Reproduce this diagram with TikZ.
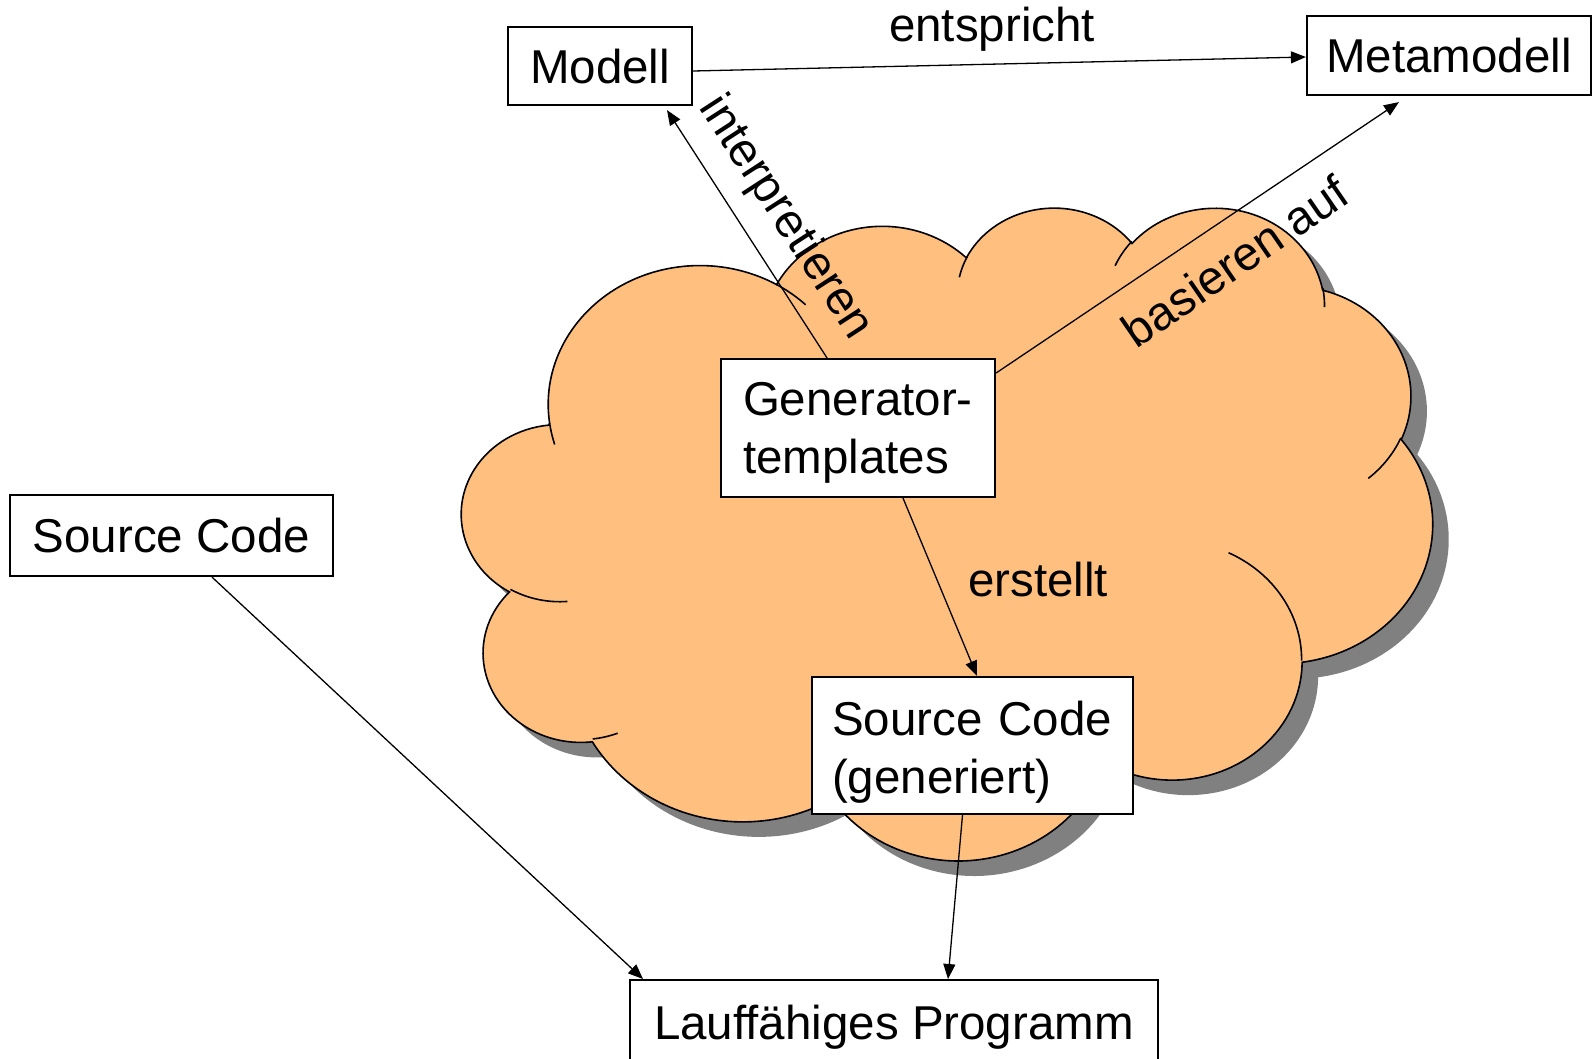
\documentclass[tikz,border=0pt]{standalone}
\usepackage{fontspec}
\setmainfont{Liberation Sans}
\usetikzlibrary{arrows.meta}
\definecolor{cloudc}{RGB}{255,191,127}
\definecolor{shadowc}{RGB}{128,128,128}
% DrawingML-style arc: name, wR, hR, start angle (visual, deg), sweep (deg)
\newcommand\defarc[5]{%
  \pgfmathsetmacro\tmpS{atan2((#2)*sin(#4),(#3)*cos(#4))}%
  \pgfmathsetmacro\tmpE{atan2((#2)*sin((#4)+(#5)),(#3)*cos((#4)+(#5)))}%
  \pgfmathsetmacro\tmpE{\tmpE+360*round(((\tmpS)+(#5)-(\tmpE))/360)}%
  \tikzset{#1/.style/.expanded={start angle=\tmpS,end angle=\tmpE,x radius=#2,y radius=#3}}%
}
\defarc{cla}{6753}{9190}{-190.4875}{123.7805}
\defarc{clb}{5333}{7267}{-144.1024}{89.9452}
\defarc{clc}{4365}{5945}{-145.8079}{99.7230}
\defarc{cld}{4857}{6595}{-130.9861}{117.2417}
\defarc{cle}{5333}{7273}{-78.7089}{109.0269}
\defarc{clf}{6775}{9220}{-46.2673}{130.2690}
\defarc{clg}{5785}{7867}{0.6250}{114.0333}
\defarc{clh}{6752}{9215}{22.4516}{115.1726}
\defarc{cli}{7720}{10543}{66.2426}{75.7110}
\defarc{clj}{4360}{5918}{-274.9421}{146.7356}
\defarc{clk}{4345}{5945}{-246.8285}{152.5189}
\defarc{ina}{4345}{5945}{86.742}{26.4295}
\defarc{inb}{4360}{5918}{73.6105}{11.4475}
\defarc{inc}{6752}{9215}{137.6242}{14.0811}
\defarc{ind}{6752}{9215}{6.4533}{15.9984}
\defarc{ine}{5785}{7867}{-70.2924}{70.9174}
\defarc{inf}{5333}{7273}{30.3180}{27.7515}
\defarc{ing}{4857}{6595}{-13.7443}{14.8589}
\defarc{inh}{4857}{6595}{-149.1815}{18.1954}
\defarc{ini}{4365}{5945}{-163.4943}{17.6864}
\defarc{inj}{6753}{9190}{-66.7070}{12.3194}
\defarc{ink}{6753}{9190}{157.6544}{11.8582}
\newcommand\cloudpath{(3900,14370) arc[cla] arc[clb] arc[clc] arc[cld] arc[cle] arc[clf] arc[clg] arc[clh] arc[cli] arc[clj] arc[clk] -- cycle}
\newcommand\cloudinner{(4693,26177) arc[ina] (6928,34899) arc[inb] (16478,39090) arc[inc] (28827,34751) arc[ind] (34129,22954) arc[ine] (41798,15354) arc[inf] (38324,5426) arc[ing] (29078,3952) arc[inh] (22141,4720) arc[ini] (14000,5192) arc[inj] (4127,15789) arc[ink]}
\begin{document}
\begin{tikzpicture}[x=1pt,y=-1pt,
  box/.style={draw, line width=2.2pt, fill=white, inner sep=0pt, font=\fontsize{47.5}{58}\selectfont},
  onebox/.style={box, text height=34pt, text depth=0pt},
  lbl/.style={font=\fontsize{47.5}{58}\selectfont, inner sep=0pt},
  conn/.style={line width=1.3pt, -{Triangle[length=15pt,width=12pt]}},
  cloudshape/.style={fill=cloudc, draw=black, line width=1.6pt}]
\useasboundingbox (0,0) rectangle (1593,1058);
% cloud shadow and cloud
\begin{scope}[shift={(478pt,-221pt)}, x=0.0224537pt, y=-0.0151042pt]
  \fill[shadowc] \cloudpath;
\end{scope}
\begin{scope}[shift={(462pt,-206pt)}, x=0.0224537pt, y=-0.0151042pt]
  \filldraw[cloudshape] \cloudpath;
  \draw[line width=1.6pt] \cloudinner;
\end{scope}
% boxes
\node[onebox, minimum width=184pt, minimum height=78pt] (modell) at (600,66) {Modell};
\node[onebox, minimum width=284pt, minimum height=79pt] (meta) at (1449,55.5) {Metamodell};
\node[onebox, minimum width=323pt, minimum height=81pt] (scl) at (171.5,535.5) {Source Code};
\node[box, align=left, text width=230pt, inner xsep=22pt, minimum height=138pt] (gen) at (858,428) {\rule{0pt}{42pt}Generator-\\templates};
\node[box, align=left, text width=281pt, inner xsep=20pt, minimum height=137pt] (scg) at (972.5,745.5) {\rule{0pt}{47pt}Source Code\\(generiert)};
\node[box, minimum width=528pt, anchor=north, text height=35pt, text depth=10pt, inner ysep=24pt] (lauf) at (894,979) {Lauffähiges Programm};
% connectors
\draw[conn] ([yshift=-5pt]modell.east) -- ([yshift=-1.5pt]meta.west);
\draw[conn] ([xshift=-31pt]gen.north) -- ([xshift=67pt,yshift=-4pt]modell.south);
\draw[conn] ([yshift=55pt]gen.east) -- ([xshift=-50pt,yshift=-6pt]meta.south);
\draw[conn] ([xshift=45pt]gen.south) -- ([xshift=4.5pt]scg.north);
\draw[conn] ([xshift=-10pt]scg.south) -- ([xshift=54pt]lauf.north);
\draw[conn] ([xshift=40.5pt]scl.south) -- ([xshift=-251pt]lauf.north);
% labels
\node[lbl, anchor=base] (lentspricht) at (992,41) {entspricht};
\node[lbl, anchor=base] (lerstellt) at (1038,596) {erstellt};
\node[lbl, rotate=-57] (linterpretieren) at (785,218) {interpretieren};
\node[lbl, rotate=34.5] (lbasieren) at (1235,261) {basieren auf};
\end{tikzpicture}
\end{document}
